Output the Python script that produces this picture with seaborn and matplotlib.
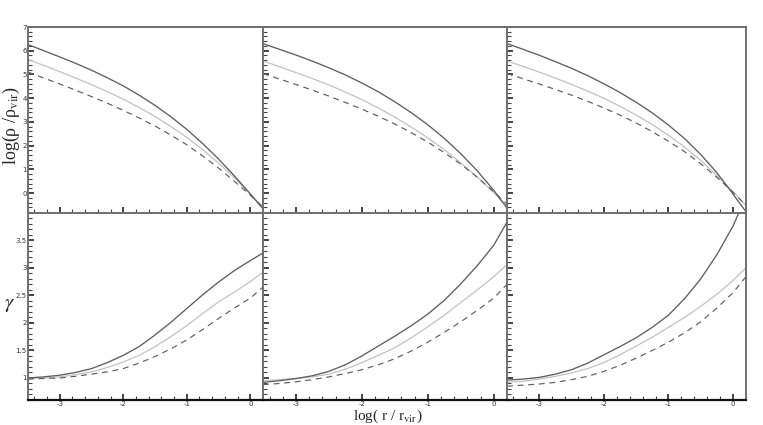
import matplotlib
matplotlib.use("Agg")
import matplotlib.pyplot as plt
import seaborn as sns
import numpy as np
import pandas as pd
from matplotlib.ticker import MultipleLocator, FuncFormatter

# ---------------- data ----------------
x_vals = [-3.5, -3.25, -3.0, -2.75, -2.5, -2.25, -2.0, -1.75, -1.5,
          -1.25, -1.0, -0.75, -0.5, -0.25, 0.0, 0.2]

# top row: log(rho/rho_vir)
rho_dark_1 = [6.26, 6.00, 5.74, 5.47, 5.18, 4.86, 4.52, 4.13, 3.70, 3.22, 2.69, 2.09, 1.44, 0.73, -0.03, -0.66]
rho_light_1 = [5.63, 5.38, 5.12, 4.85, 4.57, 4.28, 3.96, 3.61, 3.23, 2.81, 2.35, 1.84, 1.27, 0.65, -0.03, -0.60]
rho_dash_1 = [5.10, 4.85, 4.60, 4.34, 4.07, 3.79, 3.49, 3.17, 2.83, 2.45, 2.04, 1.57, 1.06, 0.50, -0.08, -0.58]

rho_dark_2 = [6.30, 6.06, 5.82, 5.56, 5.28, 4.98, 4.64, 4.27, 3.85, 3.39, 2.88, 2.31, 1.66, 0.94, 0.12, -0.62]
rho_light_2 = [5.57, 5.33, 5.08, 4.83, 4.56, 4.26, 3.94, 3.59, 3.20, 2.78, 2.33, 1.83, 1.28, 0.68, 0.02, -0.56]
rho_dash_2 = [5.04, 4.81, 4.58, 4.34, 4.09, 3.82, 3.54, 3.24, 2.91, 2.55, 2.15, 1.71, 1.22, 0.67, 0.06, -0.46]

rho_dark_3 = [6.30, 6.06, 5.81, 5.54, 5.26, 4.95, 4.61, 4.24, 3.83, 3.38, 2.87, 2.30, 1.63, 0.86, -0.04, -0.78]
rho_light_3 = [5.57, 5.34, 5.10, 4.85, 4.58, 4.30, 4.00, 3.66, 3.29, 2.89, 2.44, 1.94, 1.38, 0.75, 0.07, -0.52]
rho_dash_3 = [5.04, 4.82, 4.60, 4.37, 4.13, 3.87, 3.59, 3.29, 2.96, 2.59, 2.19, 1.75, 1.24, 0.67, 0.04, -0.51]

# bottom row: gamma
gam_dark_1 = [1.00, 1.02, 1.05, 1.10, 1.17, 1.28, 1.41, 1.57, 1.78, 2.01, 2.26, 2.51, 2.74, 2.95, 3.13, 3.27]
gam_light_1 = [0.99, 1.00, 1.02, 1.06, 1.11, 1.19, 1.29, 1.41, 1.57, 1.75, 1.95, 2.17, 2.38, 2.56, 2.75, 2.92]
gam_dash_1 = [0.98, 0.99, 1.00, 1.03, 1.07, 1.11, 1.17, 1.27, 1.39, 1.53, 1.69, 1.88, 2.08, 2.27, 2.45, 2.65]

gam_dark_2 = [0.92, 0.95, 0.99, 1.04, 1.12, 1.24, 1.40, 1.58, 1.76, 1.95, 2.16, 2.41, 2.71, 3.04, 3.41, 3.83]
gam_light_2 = [0.95, 0.97, 0.99, 1.02, 1.07, 1.16, 1.28, 1.41, 1.55, 1.73, 1.93, 2.14, 2.37, 2.60, 2.84, 3.06]
gam_dash_2 = [0.88, 0.90, 0.93, 0.97, 1.02, 1.08, 1.15, 1.24, 1.35, 1.49, 1.65, 1.83, 2.02, 2.23, 2.45, 2.70]

gam_dark_3 = [0.96, 0.98, 1.01, 1.07, 1.15, 1.27, 1.42, 1.57, 1.73, 1.92, 2.14, 2.44, 2.80, 3.24, 3.76, 4.30]
gam_light_3 = [0.92, 0.94, 0.98, 1.03, 1.09, 1.17, 1.28, 1.42, 1.58, 1.74, 1.92, 2.10, 2.30, 2.52, 2.77, 3.00]
gam_dash_3 = [0.85, 0.87, 0.89, 0.92, 0.97, 1.03, 1.12, 1.23, 1.36, 1.50, 1.65, 1.82, 2.02, 2.27, 2.55, 2.84]

x_ticks = [-3, -2, -1, 0]
rho_ticks = [0, 1, 2, 3, 4, 5, 6, 7]
gam_ticks = [1, 1.5, 2, 2.5, 3, 3.5]

top_sets = [(rho_dark_1, rho_light_1, rho_dash_1),
            (rho_dark_2, rho_light_2, rho_dash_2),
            (rho_dark_3, rho_light_3, rho_dash_3)]
bot_sets = [(gam_dark_1, gam_light_1, gam_dash_1),
            (gam_dark_2, gam_light_2, gam_dash_2),
            (gam_dark_3, gam_light_3, gam_dash_3)]

# ---------------- style ----------------
sns.set_style("white")
plt.rcParams['font.family'] = ['DejaVu Sans']
plt.rcParams['mathtext.fontset'] = 'stix'

W, H = 763, 425
fig = plt.figure(figsize=(W / 100, H / 100), dpi=100)

lefts = [28, 263, 507]
rights = [263, 507, 746]
row_top = (27, 212.7)
row_bot = (212.7, 400)

DARK = '#5e5e5e'
LIGHT = '#c2c2c2'
SPINE = '#707070'

fmt = FuncFormatter(lambda v, p: '%g' % v)


def make_ax(l, r, t, b):
    return fig.add_axes([l / W, 1 - b / H, (r - l) / W, (b - t) / H])


def style(ax, show_x, show_y, yminor, ymajor):
    ax.set_xlim(-3.5, 0.2)
    ax.xaxis.set_major_locator(MultipleLocator(1))
    ax.xaxis.set_minor_locator(MultipleLocator(0.2))
    ax.yaxis.set_major_locator(MultipleLocator(ymajor))
    ax.yaxis.set_minor_locator(MultipleLocator(yminor))
    ax.xaxis.set_major_formatter(fmt)
    ax.yaxis.set_major_formatter(fmt)
    ax.tick_params(axis='both', which='both', bottom=True, left=True,
                   top=False, right=False)
    ax.tick_params(which='major', direction='in', length=4, width=1.1,
                   color='#111111', labelsize=5, labelcolor='#333333', pad=1.0)
    ax.tick_params(which='minor', direction='in', length=3, width=0.8,
                   color='#444444')
    if not show_x:
        ax.tick_params(axis='x', labelbottom=False)
    if not show_y:
        ax.tick_params(axis='y', labelleft=False)
    for s in ax.spines.values():
        s.set_color(SPINE)
        s.set_linewidth(1.4)
    ax.set_xlabel('')
    ax.set_ylabel('')
    ax.set_facecolor('white')


def draw(ax, dark, light, dash):
    df = pd.DataFrame({'x': x_vals, 'dark': dark, 'light': light, 'dash': dash})
    sns.lineplot(data=df, x='x', y='light', ax=ax, color=LIGHT, lw=0.9,
                 estimator=None, sort=False)
    sns.lineplot(data=df, x='x', y='dash', ax=ax, color=DARK, lw=0.85,
                 linestyle=(0, (5, 4)), estimator=None, sort=False)
    sns.lineplot(data=df, x='x', y='dark', ax=ax, color=DARK, lw=0.95,
                 estimator=None, sort=False)


for i in range(3):
    axt = make_ax(lefts[i], rights[i], *row_top)
    draw(axt, *top_sets[i])
    axt.set_ylim(-0.82, 7.0)
    style(axt, False, i == 0, 0.2, 1)
    if i == 0:
        axt.set_yticks(rho_ticks)

    axb = make_ax(lefts[i], rights[i], *row_bot)
    draw(axb, *bot_sets[i])
    axb.set_ylim(0.6, 4.0)
    style(axb, True, i == 0, 0.1, 0.5)
    axb.set_xticks(x_ticks)
    if i == 0:
        axb.set_yticks(gam_ticks)
    axb.spines['bottom'].set_color('#111111')
    axb.spines['bottom'].set_linewidth(1.6)

fig.text(11 / W, 1 - 126 / H, r'log(ρ /ρ$_{\mathrm{vir}}$)', rotation=90,
         ha='center', va='center', fontsize=13, family='Liberation Serif')
fig.text(10 / W, 1 - 305 / H, r'$\gamma$', ha='center', va='center',
         fontsize=15, family='Liberation Serif')
fig.text(388 / W, 1 - 419.5 / H, r'log( r / r$_{\mathrm{vir}}$)', ha='center',
         va='baseline', fontsize=11, family='Liberation Serif')

fig.savefig('out.png', dpi=100, facecolor='white')
